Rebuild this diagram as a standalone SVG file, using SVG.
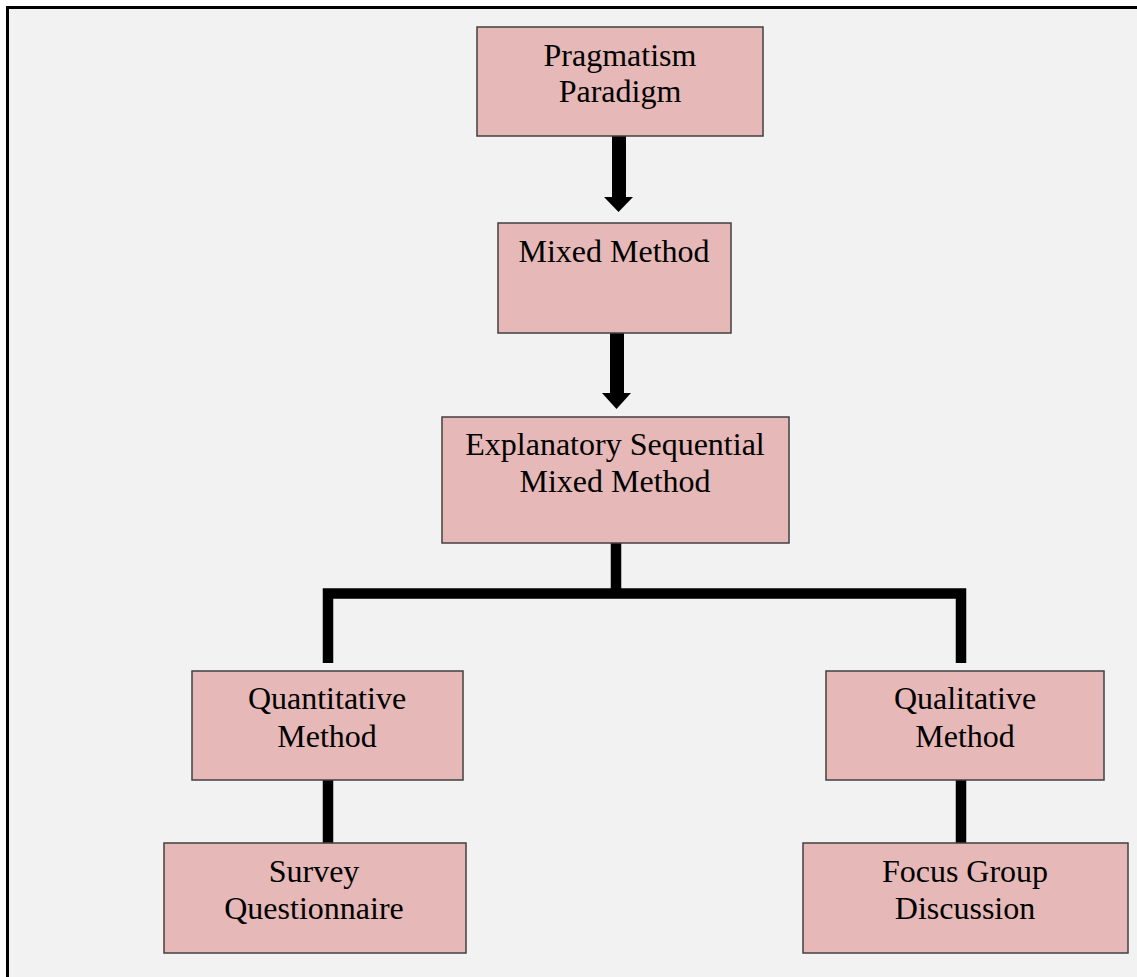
<svg xmlns="http://www.w3.org/2000/svg" width="1137" height="977" viewBox="0 0 1137 977">
<style>
.box{fill:#e6b8b7;stroke:#404040;stroke-width:1.5}
.t{font-family:"Liberation Serif","Times New Roman",serif;font-size:32px;fill:#000;text-anchor:middle}
.line{fill:none;stroke:#000;stroke-width:10.5;stroke-linejoin:miter}
.arrow{fill:#000}
</style>
<rect x="0" y="0" width="1137" height="977" fill="#ffffff"/>
<rect x="7.5" y="7.5" width="1200" height="1000" fill="#f2f2f2" stroke="#000" stroke-width="3"/>
<g id="connectors">
<path class="arrow" d="M612,136 H626 V197 H633 L618.5,212 L604,197 H612 Z"/>
<path class="arrow" d="M610,333 H624 V393 H631 L616.5,409 L602,393 H610 Z"/>
<path class="line" d="M616,543 V593.5"/>
<path class="line" d="M328,663 V593.5 H961 V663"/>
<path class="line" d="M328,780 V845"/>
<path class="line" d="M961,780 V845"/>
</g>
<g id="pragmatism">
<rect class="box" x="477" y="27" width="286" height="109"/>
<text class="t" x="620" y="66">Pragmatism</text>
<text class="t" x="620" y="102">Paradigm</text>
</g>
<g id="mixed">
<rect class="box" x="498" y="223" width="233" height="110"/>
<text class="t" x="614" y="262">Mixed Method</text>
</g>
<g id="explanatory">
<rect class="box" x="442" y="417" width="347" height="126"/>
<text class="t" x="615" y="455">Explanatory Sequential</text>
<text class="t" x="615" y="492">Mixed Method</text>
</g>
<g id="quantitative">
<rect class="box" x="192" y="671" width="271" height="109"/>
<text class="t" x="327" y="709">Quantitative</text>
<text class="t" x="327" y="747">Method</text>
</g>
<g id="qualitative">
<rect class="box" x="826" y="671" width="278" height="109"/>
<text class="t" x="965" y="709">Qualitative</text>
<text class="t" x="965" y="747">Method</text>
</g>
<g id="survey">
<rect class="box" x="164" y="843" width="302" height="110"/>
<text class="t" x="314" y="882">Survey</text>
<text class="t" x="314" y="919">Questionnaire</text>
</g>
<g id="focus">
<rect class="box" x="803" y="843" width="325" height="110"/>
<text class="t" x="965" y="882">Focus Group</text>
<text class="t" x="965" y="919">Discussion</text>
</g>
</svg>
